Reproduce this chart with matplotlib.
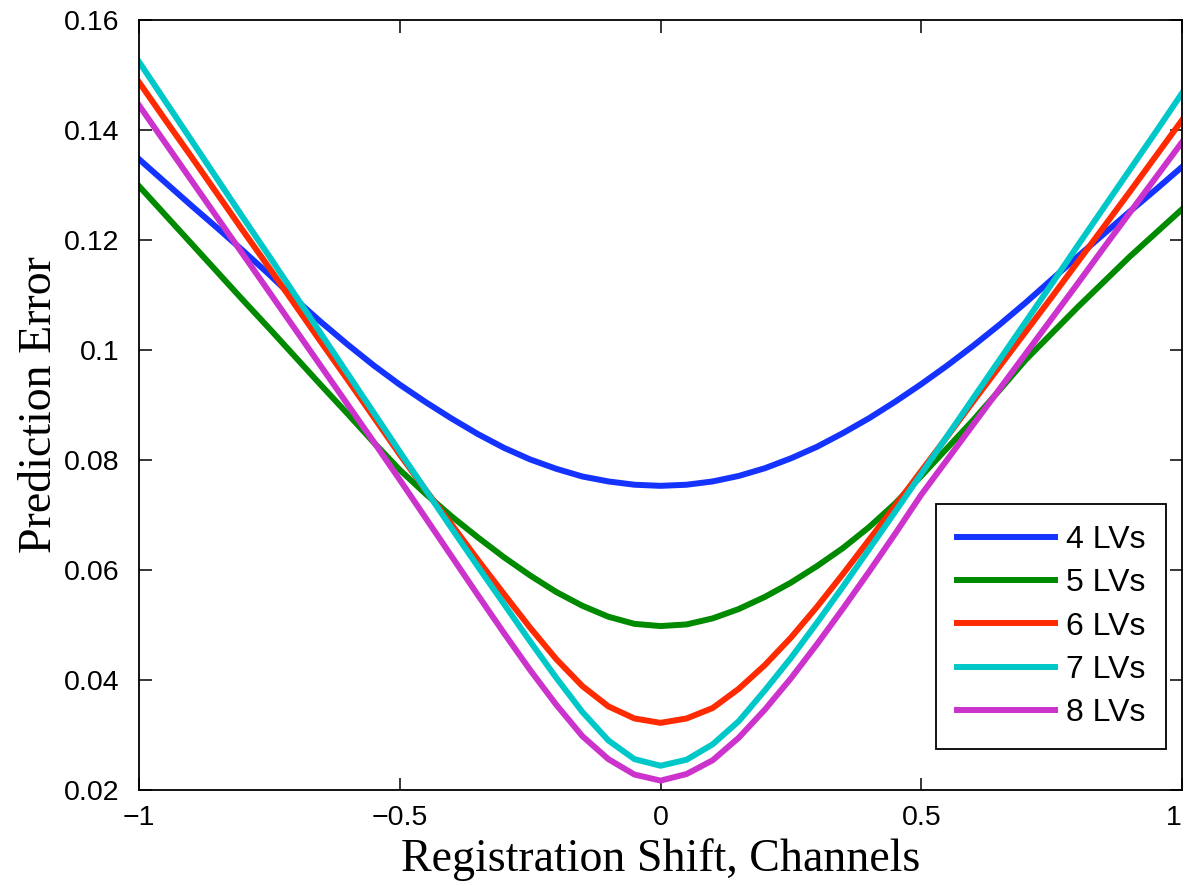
import matplotlib.pyplot as plt
import numpy as np

plt.rcParams.update({'font.size': 20.5, 'font.family': 'Liberation Sans'})

# registration shift, -1 .. 1 in steps of 0.05
shift = np.linspace(-1, 1, 41)

lv4 = [0.1347, 0.1305, 0.1263, 0.1222, 0.1180, 0.1137, 0.1092, 0.1050, 0.1010, 0.0972,
       0.0937, 0.0905, 0.0875, 0.0847, 0.0822, 0.0801, 0.0784, 0.0770, 0.0761, 0.0755,
       0.0753,
       0.0755, 0.0761, 0.0771, 0.0785, 0.0803, 0.0824, 0.0849, 0.0876, 0.0906, 0.0938,
       0.0972, 0.1008, 0.1046, 0.1086, 0.1128, 0.1170, 0.1211, 0.1252, 0.1292, 0.1333]
lv5 = [0.1298, 0.1246, 0.1194, 0.1142, 0.1090, 0.1039, 0.0987, 0.0935, 0.0884, 0.0832,
       0.0782, 0.0738, 0.0697, 0.0659, 0.0623, 0.0590, 0.0560, 0.0535, 0.0515, 0.0502,
       0.0498,
       0.0501, 0.0512, 0.0529, 0.0551, 0.0577, 0.0607, 0.0640, 0.0678, 0.0721, 0.0771,
       0.0822, 0.0873, 0.0927, 0.0982, 0.1030, 0.1078, 0.1124, 0.1170, 0.1213, 0.1256]
lv6 = [0.1487, 0.1419, 0.1352, 0.1284, 0.1216, 0.1149, 0.1081, 0.1013, 0.0946, 0.0878,
       0.0810, 0.0745, 0.0682, 0.0618, 0.0556, 0.0495, 0.0438, 0.0389, 0.0352, 0.0330,
       0.0322,
       0.0330, 0.0349, 0.0384, 0.0427, 0.0477, 0.0533, 0.0593, 0.0655, 0.0717, 0.0780,
       0.0843, 0.0907, 0.0970, 0.1033, 0.1096, 0.1160, 0.1224, 0.1288, 0.1353, 0.1418]
lv7 = [0.1524, 0.1453, 0.1382, 0.1311, 0.1240, 0.1170, 0.1099, 0.1028, 0.0957, 0.0886,
       0.0815, 0.0745, 0.0675, 0.0606, 0.0538, 0.0470, 0.0404, 0.0342, 0.0290, 0.0256,
       0.0244,
       0.0255, 0.0283, 0.0325, 0.0381, 0.0440, 0.0504, 0.0570, 0.0638, 0.0706, 0.0775,
       0.0844, 0.0913, 0.0982, 0.1051, 0.1120, 0.1190, 0.1259, 0.1328, 0.1397, 0.1467]
lv8 = [0.1445, 0.1377, 0.1309, 0.1241, 0.1173, 0.1105, 0.1037, 0.0969, 0.0901, 0.0833,
       0.0764, 0.0694, 0.0624, 0.0554, 0.0485, 0.0418, 0.0355, 0.0298, 0.0256, 0.0228,
       0.0217,
       0.0229, 0.0254, 0.0295, 0.0346, 0.0403, 0.0465, 0.0530, 0.0597, 0.0666, 0.0737,
       0.0801, 0.0865, 0.0929, 0.0993, 0.1057, 0.1121, 0.1186, 0.1250, 0.1314, 0.1378]

names = ['4 LVs', '5 LVs', '6 LVs', '7 LVs', '8 LVs']
colors = ['#1433ff', '#008a00', '#ff2a00', '#00c8c8', '#cc33cc']

xticks = [-1, -0.5, 0, 0.5, 1]
xticklabels = ['\u22121', '\u22120.5', '0', '0.5', '1']
yticks = [0.02, 0.04, 0.06, 0.08, 0.1, 0.12, 0.14, 0.16]
yticklabels = ['0.02', '0.04', '0.06', '0.08', '0.1', '0.12', '0.14', '0.16']

fig = plt.figure(figsize=(11.88, 8.86), dpi=100)
ax = fig.add_axes([0.117, 0.1084, 0.878, 0.869])

for y, name, c in zip([lv4, lv5, lv6, lv7, lv8], names, colors):
    ax.plot(shift, y, color=c, lw=4.3, label=name)

ax.set_xlim(-1, 1)
ax.set_ylim(0.02, 0.16)
ax.set_xticks(xticks)
ax.set_xticklabels(xticklabels)
ax.set_yticks(yticks)
ax.set_yticklabels(yticklabels)
ax.tick_params(direction='in', length=9, width=1.1, top=True, right=True)
ax.tick_params(axis='x', pad=11)
ax.tick_params(axis='y', pad=14)
ax.get_xticklabels()[-1].set_horizontalalignment('right')
for s in ax.spines.values():
    s.set_linewidth(1.3)

ax.set_xlabel('Registration Shift, Channels', family='Liberation Serif', fontsize=33, labelpad=5)
ax.set_ylabel('Prediction Error', family='Liberation Serif', fontsize=33, labelpad=2)

leg = ax.legend(loc='lower right', bbox_to_anchor=(0.985, 0.053), borderaxespad=0,
                fancybox=False, edgecolor='black', framealpha=1, handlelength=3.07,
                handletextpad=0.35, labelspacing=0.42, borderpad=0.65, fontsize=23)
leg.get_frame().set_linewidth(1.3)

plt.savefig('out.png', dpi=100)
plt.close()
